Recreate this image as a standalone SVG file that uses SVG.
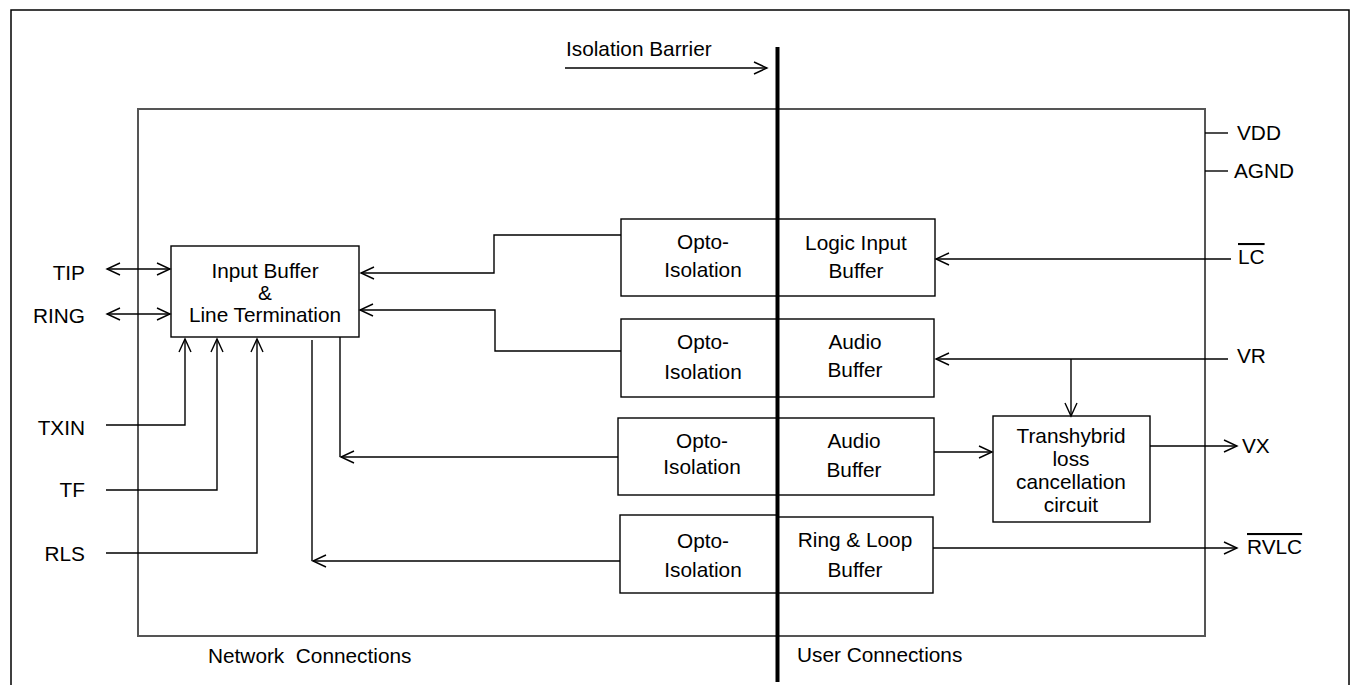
<svg xmlns="http://www.w3.org/2000/svg" width="1353" height="685" viewBox="0 0 1353 685">
<style>
text{font-family:"Liberation Sans",Arial,sans-serif;font-size:20.8px;fill:#000}
.c{text-anchor:middle}
.r{text-anchor:end}
.box{fill:#fff;stroke:#000;stroke-width:1.4}
.ln{fill:none;stroke:#000;stroke-width:1.4}
.ar{fill:none;stroke:#000;stroke-width:1.4;marker-end:url(#ah)}
.ov{text-decoration:overline}
</style>
<defs>
<marker id="ah" markerUnits="userSpaceOnUse" markerWidth="16" markerHeight="14" viewBox="0 0 16 14" refX="14" refY="7" orient="auto-start-reverse">
<path d="M1,1 L14,7 L1,13" fill="none" stroke="#000" stroke-width="1.4"/>
</marker>
</defs>
<rect width="1353" height="685" fill="#fff"/>
<g id="frame">
<rect x="11" y="10" width="1338" height="690" fill="none" stroke="#000" stroke-width="1.5"/>
<rect x="138" y="109" width="1067" height="527" fill="none" stroke="#555" stroke-width="2"/>
</g>
<g id="input-buffer">
<rect class="box" x="171" y="246" width="188" height="91"/>
<text class="c" x="265" y="278">Input Buffer</text>
<text class="c" x="265" y="300">&amp;</text>
<text class="c" x="265" y="322">Line Termination</text>
</g>
<g id="opto1">
<rect class="box" x="621" y="219" width="156" height="77"/>
<text class="c" x="703" y="249">Opto-</text>
<text class="c" x="703" y="277">Isolation</text>
</g>
<g id="logic-input-buffer">
<rect class="box" x="777" y="219" width="158" height="77"/>
<text class="c" x="856" y="250">Logic Input</text>
<text class="c" x="856" y="278">Buffer</text>
</g>
<g id="opto2">
<rect class="box" x="621" y="319" width="156" height="78"/>
<text class="c" x="703" y="349">Opto-</text>
<text class="c" x="703" y="379">Isolation</text>
</g>
<g id="audio-buffer1">
<rect class="box" x="777" y="319" width="157" height="78"/>
<text class="c" x="855" y="349">Audio</text>
<text class="c" x="855" y="377">Buffer</text>
</g>
<g id="opto3">
<rect class="box" x="618" y="418" width="159" height="77"/>
<text class="c" x="702" y="448">Opto-</text>
<text class="c" x="702" y="474">Isolation</text>
</g>
<g id="audio-buffer2">
<rect class="box" x="777" y="418" width="157" height="77"/>
<text class="c" x="854" y="448">Audio</text>
<text class="c" x="854" y="477">Buffer</text>
</g>
<g id="opto4">
<rect class="box" x="620" y="515" width="157" height="78"/>
<text class="c" x="703" y="548">Opto-</text>
<text class="c" x="703" y="577">Isolation</text>
</g>
<g id="ring-loop-buffer">
<rect class="box" x="777" y="517" width="156" height="76"/>
<text class="c" x="855" y="547">Ring &amp; Loop</text>
<text class="c" x="855" y="577">Buffer</text>
</g>
<g id="transhybrid">
<rect class="box" x="993" y="416" width="157" height="106"/>
<text class="c" x="1071" y="443">Transhybrid</text>
<text class="c" x="1071" y="466">loss</text>
<text class="c" x="1071" y="489">cancellation</text>
<text class="c" x="1071" y="512">circuit</text>
</g>
<g id="barrier">
<line x1="777.5" y1="47" x2="777.5" y2="682" stroke="#000" stroke-width="4"/>
<text x="566" y="56">Isolation Barrier</text>
</g>
<g id="labels">
<text class="r" x="85" y="280">TIP</text>
<text class="r" x="85" y="323">RING</text>
<text class="r" x="85" y="435">TXIN</text>
<text class="r" x="85" y="497">TF</text>
<text class="r" x="85" y="561">RLS</text>
<text x="1237" y="140">VDD</text>
<text x="1234" y="178">AGND</text>
<text class="ov" x="1238" y="264">LC</text>
<text x="1237" y="363">VR</text>
<text x="1242" y="453">VX</text>
<text class="ov" x="1247" y="554">RVLC</text>
<text x="208" y="663" style="white-space:pre">Network  Connections</text>
<text x="797" y="662">User Connections</text>
</g>
<g id="connectors">
<line class="ar" x1="565" y1="68" x2="767" y2="68"/>
<line class="ln" x1="1205" y1="133" x2="1228" y2="133"/>
<line class="ln" x1="1205" y1="171" x2="1228" y2="171"/>
<line class="ar" style="marker-start:url(#ah)" x1="107" y1="269" x2="170" y2="269"/>
<line class="ar" style="marker-start:url(#ah)" x1="107" y1="314" x2="170" y2="314"/>
<polyline class="ar" points="106,425 185,425 185,339"/>
<polyline class="ar" points="106,490 217,490 217,339"/>
<polyline class="ar" points="106,553 257,553 257,339"/>
<polyline class="ar" points="621,235 494,235 494,273 361,273"/>
<polyline class="ar" points="621,351 495,351 495,310 360,310"/>
<line class="ln" x1="340" y1="337" x2="340" y2="457"/>
<line class="ar" x1="618" y1="457" x2="341" y2="457"/>
<line class="ln" x1="312" y1="340" x2="312" y2="561"/>
<line class="ar" x1="620" y1="561" x2="313" y2="561"/>
<line class="ar" x1="1231" y1="259" x2="936" y2="259"/>
<line class="ar" x1="1228" y1="359" x2="936" y2="359"/>
<line class="ar" x1="1071" y1="359" x2="1071" y2="416"/>
<line class="ar" x1="934" y1="452" x2="992" y2="452"/>
<line class="ar" x1="1150" y1="446" x2="1237" y2="446"/>
<line class="ar" x1="933" y1="548" x2="1237" y2="548"/>
</g>
</svg>
